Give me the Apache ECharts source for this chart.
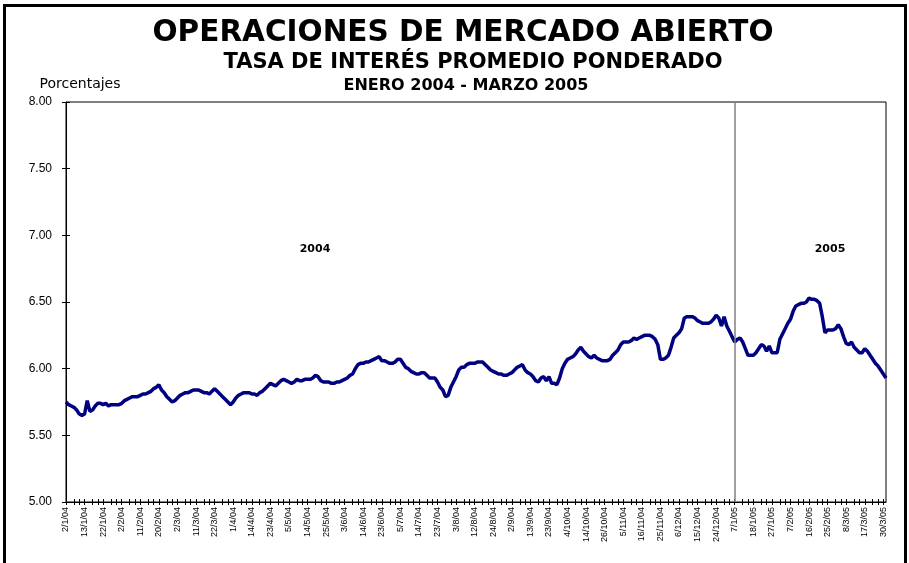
<!DOCTYPE html>
<html>
<head>
<meta charset="utf-8">
<script src="https://cdn.jsdelivr.net/npm/echarts@6/dist/echarts.min.js"></script>
<style>
  html, body { margin: 0; padding: 0; background: #fff; }
  #conMain { width: 909px; height: 563px; }
</style>
</head>
<body>
<div id="conMain"></div>
<script>
// etiquetas del eje X (una cada 7 observaciones)
var etiquetas = ['2/1/04','13/1/04','22/1/04','2/2/04','11/2/04','20/2/04','2/3/04','11/3/04','22/3/04','1/4/04',
    '14/4/04','23/4/04','5/5/04','14/5/04','25/5/04','3/6/04','14/6/04','23/6/04','5/7/04','14/7/04',
    '23/7/04','3/8/04','12/8/04','24/8/04','2/9/04','13/9/04','23/9/04','4/10/04','14/10/04','26/10/04',
    '5/11/04','16/11/04','25/11/04','6/12/04','15/12/04','24/12/04','7/1/05','18/1/05','27/1/05','7/2/05',
    '16/2/05','25/2/05','8/3/05','17/3/05','30/3/05'];

// tasa de interes promedio ponderado, por tramos
var tramo1 = [5.75,5.73,5.72,5.71,5.69,5.66,5.65,5.66,5.76,5.68,
    5.69,5.72,5.74,5.74,5.73,5.74,5.72,5.73,5.73,5.73,
    5.73,5.74,5.76,5.77,5.78,5.79,5.79,5.79,5.80,5.81,
    5.81,5.82,5.83,5.85,5.86,5.88,5.84,5.82,5.79,5.77,
    5.75,5.76,5.78,5.80,5.81,5.82,5.82,5.83,5.84,5.84,
    5.84,5.83,5.82,5.82,5.81,5.83,5.85,5.83,5.81,5.79,
    5.77,5.75,5.73];
var tramo2 = [5.75,5.78,5.80,5.81,5.82,5.82,5.82,5.81,5.81,5.80,
    5.82,5.83,5.85,5.87,5.89,5.88,5.87,5.89,5.91,5.92,
    5.91,5.90,5.89,5.90,5.92,5.91,5.91,5.92,5.92,5.92,
    5.93,5.95,5.94,5.91,5.90,5.90,5.90,5.89,5.89,5.90,
    5.90,5.91,5.92,5.93,5.95,5.96,6.00,6.03,6.04,6.04,
    6.05,6.05,6.06,6.07,6.08,6.09,6.06,6.06,6.05,6.04,
    6.04];
var tramo3 = [6.05,6.07,6.07,6.04,6.01,6.00,5.98,5.97,5.96,5.96,
    5.97,5.97,5.95,5.93,5.93,5.93,5.90,5.86,5.84,5.79,
    5.80,5.86,5.90,5.94,5.99,6.01,6.01,6.03,6.04,6.04,
    6.04,6.05,6.05,6.05,6.03,6.01,5.99,5.98,5.97,5.96,
    5.96,5.95,5.95,5.96,5.97,5.99,6.01,6.02,6.03,5.99,
    5.97,5.96,5.94,5.91,5.90,5.93,5.94,5.91,5.94,5.89,
    5.89,5.88,5.93];
var tramo4 = [6.00,6.04,6.07,6.08,6.09,6.11,6.14,6.16,6.13,6.11,
    6.09,6.08,6.10,6.08,6.07,6.06,6.06,6.06,6.07,6.10,
    6.12,6.14,6.18,6.20,6.20,6.20,6.21,6.23,6.22,6.23,
    6.24,6.25,6.25,6.25,6.24,6.22,6.18,6.07,6.07,6.08,
    6.10,6.16,6.23,6.25,6.27,6.30,6.38,6.39,6.39,6.39,
    6.38,6.36,6.35,6.34,6.34,6.34,6.35,6.37,6.40,6.38,
    6.32,6.39];
var tramo5 = [6.32,6.28,6.24,6.20,6.22,6.23,6.20,6.15,6.10,6.10,
    6.10,6.12,6.15,6.18,6.17,6.13,6.17,6.12,6.12,6.12,
    6.22,6.26,6.30,6.34,6.37,6.43,6.47,6.48,6.49,6.49,
    6.50,6.53,6.52,6.52,6.51,6.49,6.39,6.27,6.29,6.29,
    6.29,6.30,6.33,6.30,6.24,6.19,6.18,6.20,6.16,6.14,
    6.12,6.12,6.15,6.13,6.10,6.07,6.04,6.02,5.99,5.96,
    5.93];

var corte2005 = 252; // posicion de 7/1/05

var tasas = tramo1.concat(tramo2, tramo3, tramo4, tramo5);
var categorias = [];
for (var i = 0; i < tasas.length; i++) categorias.push(String(i));

var fuenteTitulo = 'DejaVu Sans';
var fuenteEje = 'Arial, "Liberation Sans", sans-serif';

// grid: 66..886 x 102..502
var altoPlot = 400, anchoPlot = 820;

function marcaX(idx) { return (idx * 3) % 7 < 3; }

var option = {
    animation: false,
    backgroundColor: '#fff',
    grid: {
        left: 66, right: 23, top: 102, bottom: 61,
        show: true, borderColor: '#000', borderWidth: 1
    },
    xAxis: [{
        type: 'category',
        data: categorias,
        boundaryGap: false,
        axisLine: { lineStyle: { color: '#000', width: 1 } },
        axisTick: { interval: marcaX, length: 3, lineStyle: { color: '#000' } },
        axisLabel: {
            interval: function (idx) { return idx % 7 === 0; },
            formatter: function (v) { return etiquetas[parseInt(v, 10) / 7] || ''; },
            rotate: 90,
            margin: 5,
            fontSize: 9,
            fontFamily: fuenteEje,
            color: '#000'
        },
        splitLine: { show: false }
    }, {
        // marcas hacia adentro (eje superior desplazado al borde inferior)
        type: 'category',
        data: categorias,
        boundaryGap: false,
        position: 'top',
        offset: -altoPlot,
        axisLine: { show: false },
        axisTick: { interval: marcaX, length: 3, lineStyle: { color: '#000' } },
        axisLabel: { show: false },
        splitLine: { show: false }
    }],
    yAxis: [{
        type: 'value',
        min: 5, max: 8, interval: 0.5,
        axisLine: { show: true, lineStyle: { color: '#000', width: 1 } },
        axisTick: { show: true, length: 4, lineStyle: { color: '#000' } },
        axisLabel: {
            formatter: function (v) { return v.toFixed(2); },
            margin: 14,
            fontSize: 12,
            fontFamily: fuenteEje,
            color: '#000'
        },
        splitLine: { show: false }
    }, {
        type: 'value',
        min: 5, max: 8, interval: 0.5,
        position: 'right',
        offset: -anchoPlot,
        axisLine: { show: false },
        axisTick: { show: true, length: 4, lineStyle: { color: '#000' } },
        axisLabel: { show: false },
        splitLine: { show: false }
    }],
    series: [{
        name: 'Tasa',
        type: 'line',
        xAxisIndex: 0,
        yAxisIndex: 0,
        data: tasas,
        showSymbol: false,
        smooth: false,
        lineStyle: { color: '#000080', width: 3.5 },
        markLine: {
            silent: true,
            symbol: ['none', 'none'],
            label: { show: false },
            lineStyle: { color: '#808080', width: 1.5, type: 'solid' },
            data: [{ xAxis: String(corte2005) }]
        }
    }],
    graphic: [
        { type: 'rect', shape: { x: 4.5, y: 5.5, width: 901, height: 620 },
          style: { fill: 'none', stroke: '#000', lineWidth: 3 } },
        { type: 'text', x: 463, y: 33,
          style: { text: 'OPERACIONES DE MERCADO ABIERTO', font: 'bold 29.5px ' + fuenteTitulo,
                   fill: '#000', textAlign: 'center', textVerticalAlign: 'middle' } },
        { type: 'text', x: 473, y: 63,
          style: { text: 'TASA DE INTERÉS PROMEDIO PONDERADO', font: 'bold 21px ' + fuenteTitulo,
                   fill: '#000', textAlign: 'center', textVerticalAlign: 'middle' } },
        { type: 'text', x: 466, y: 86,
          style: { text: 'ENERO 2004 - MARZO 2005', font: 'bold 16px ' + fuenteTitulo,
                   fill: '#000', textAlign: 'center', textVerticalAlign: 'middle' } },
        { type: 'text', x: 80, y: 84,
          style: { text: 'Porcentajes', font: '14px ' + fuenteTitulo,
                   fill: '#000', textAlign: 'center', textVerticalAlign: 'middle' } },
        { type: 'text', x: 315, y: 249,
          style: { text: '2004', font: 'bold 11px ' + fuenteTitulo,
                   fill: '#000', textAlign: 'center', textVerticalAlign: 'middle' } },
        { type: 'text', x: 830, y: 249,
          style: { text: '2005', font: 'bold 11px ' + fuenteTitulo,
                   fill: '#000', textAlign: 'center', textVerticalAlign: 'middle' } }
    ]
};

var myChart = echarts.init(document.getElementById('conMain'));
myChart.setOption(option);
</script>
</body>
</html>
